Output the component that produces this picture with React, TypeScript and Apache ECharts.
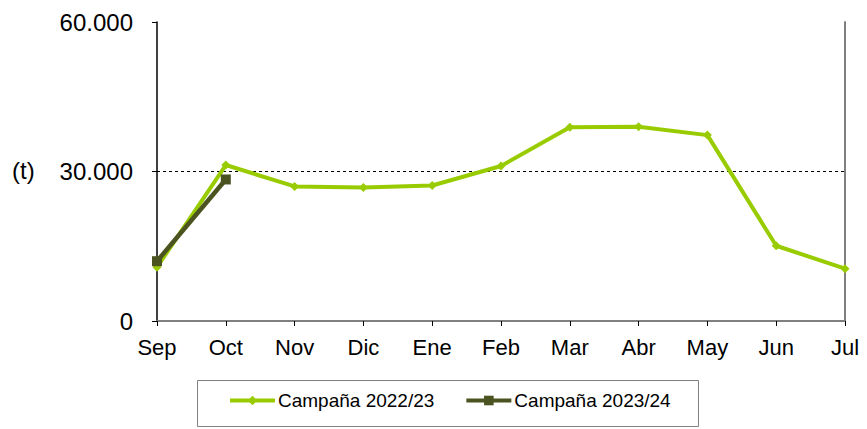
import React, { useEffect, useRef } from "react";
import * as echarts from "echarts";

const categories = ["Sep", "Oct", "Nov", "Dic", "Ene", "Feb", "Mar", "Abr", "May", "Jun", "Jul"];
const campaign2223 = [10800, 31300, 27000, 26800, 27200, 31100, 38900, 39000, 37300, 15100, 10500];
const campaign2324 = [12000, 28400];
const seriesNames = ["Campaña 2022/23", "Campaña 2023/24"];
const yTicks = { min: 0, max: 60000, interval: 30000 };
const refLine = 30000;

const fmt = (v: number) => (v === 0 ? "0" : v.toString().replace(/\B(?=(\d{3})+(?!\d))/g, "."));

export default function App() {
  const ref = useRef<HTMLDivElement>(null);
  useEffect(() => {
    if (!ref.current) return;
    const chart = echarts.init(ref.current, null, { renderer: "svg" });
    const font = "'Liberation Sans', Arial, sans-serif";
    chart.setOption({
      animation: false,
      backgroundColor: "#fff",
      textStyle: { fontFamily: font },
      grid: { left: 157, right: 22, top: 22, bottom: 108, containLabel: false },
      xAxis: [
        {
          type: "category",
          data: categories,
          boundaryGap: false,
          axisLine: { lineStyle: { color: "#000", width: 1.5 } },
          axisTick: { show: true, length: 5, lineStyle: { color: "#000" } },
          axisLabel: { color: "#000", fontSize: 22, margin: 15, fontFamily: font },
          splitLine: { show: false },
        },
        {
          type: "category",
          data: categories,
          boundaryGap: false,
          position: "top",
          axisLine: { lineStyle: { color: "#808080", width: 2 } },
          axisTick: { show: false },
          axisLabel: { show: false },
          splitLine: { show: false },
        },
      ],
      yAxis: [
        {
          type: "value",
          min: yTicks.min,
          max: yTicks.max,
          interval: yTicks.interval,
          axisLine: { show: true, lineStyle: { color: "#000", width: 1.5 } },
          axisTick: { show: true, length: 5, lineStyle: { color: "#000" } },
          axisLabel: { color: "#000", fontSize: 24, margin: 24, formatter: fmt, fontFamily: font },
          splitLine: { show: false },
        },
        {
          type: "value",
          min: yTicks.min,
          max: yTicks.max,
          interval: yTicks.interval,
          position: "right",
          axisLine: { show: true, lineStyle: { color: "#808080", width: 2 } },
          axisTick: { show: false },
          axisLabel: { show: false },
          splitLine: { show: false },
        },
      ],
      legend: {
        left: 228,
        top: 391,
        padding: 0,
        itemGap: 30,
        itemWidth: 45,
        itemHeight: 12,
        lineStyle: { width: 4 },
        textStyle: { color: "#000", fontSize: 19, fontFamily: font, padding: [0, 0, 0, -2] },
        data: seriesNames,
      },
      graphic: [
        {
          type: "rect",
          shape: { x: 197.5, y: 380.5, width: 501, height: 46 },
          style: { fill: "none", stroke: "#808080", lineWidth: 1 },
          z: 0,
        },
        {
          type: "text",
          left: 12,
          top: 158,
          style: { text: "(t)", fontSize: 24, fill: "#000", fontFamily: font },
        },
      ],
      series: [
        {
          name: seriesNames[0],
          type: "line",
          data: campaign2223,
          symbol: "diamond",
          symbolSize: 9,
          lineStyle: { color: "#99CC00", width: 4 },
          itemStyle: { color: "#99CC00" },
          z: 2,
          markLine: {
            silent: true,
            symbol: "none",
            label: { show: false },
            lineStyle: { color: "#000", type: [3, 3], width: 1 },
            data: [{ yAxis: refLine }],
            z: 1,
          },
        },
        {
          name: seriesNames[1],
          type: "line",
          data: campaign2324,
          symbol: "rect",
          symbolSize: 10,
          lineStyle: { color: "#4B5320", width: 4.5 },
          itemStyle: { color: "#4B5320" },
          z: 3,
        },
      ],
    });
    return () => chart.dispose();
  }, []);
  return <div ref={ref} style={{ position: "fixed", left: 0, top: 0, width: 867, height: 429 }} />;
}
